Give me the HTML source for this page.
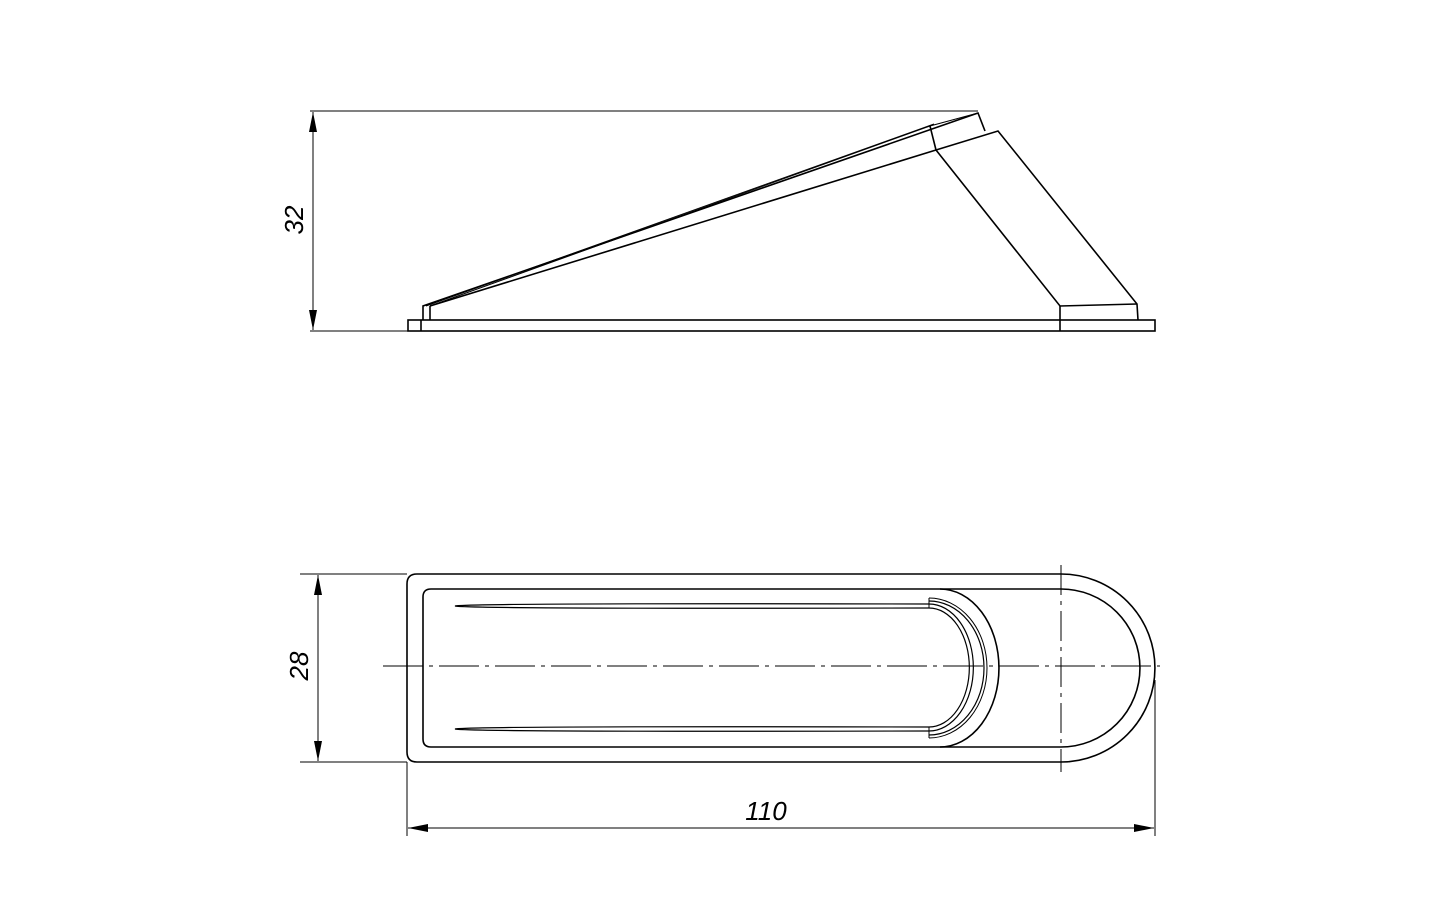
<!DOCTYPE html>
<html><head><meta charset="utf-8"><style>html,body{margin:0;padding:0;background:#fff}svg{display:block}</style></head>
<body>
<svg width="1440" height="900" viewBox="0 0 1440 900" xmlns="http://www.w3.org/2000/svg">
<defs>
<marker id="ar" viewBox="0 0 20 8" refX="20" refY="4" markerWidth="20" markerHeight="8" markerUnits="userSpaceOnUse" orient="auto-start-reverse">
<path d="M0,0 L20,4 L0,8 Z" fill="#000"/></marker>
</defs>
<g fill="none" stroke="#000" stroke-width="1.6">
<!-- side view -->
<line x1="310" y1="111" x2="978" y2="111" stroke-width="1"/>
<line x1="310" y1="331" x2="409" y2="331" stroke-width="1"/>
<line x1="313" y1="112" x2="313" y2="330" stroke-width="1" marker-start="url(#ar)" marker-end="url(#ar)"/>
<rect x="408" y="320" width="747" height="11"/>
<line x1="421" y1="320" x2="421" y2="331"/>
<line x1="1060" y1="306" x2="1060" y2="331"/>
<polyline points="423,320 423,306 978,113 985,131"/>
<line x1="430" y1="306" x2="430" y2="320"/>
<polyline points="430,306 930,126 978,113" stroke-width="1"/>
<line x1="426" y1="306" x2="934" y2="124" stroke-width="1"/>
<line x1="430" y1="306" x2="936" y2="150"/>
<line x1="930" y1="126" x2="936" y2="150"/>
<polyline points="936,150 998,131 1137,304 1138,320"/>
<polyline points="936,150 1060,306 1137,304"/>
<!-- top view -->
<path d="M417,574 L1061,574 A94,94 0 0 1 1061,762 L417,762 Q407,762 407,752 L407,584 Q407,574 417,574 Z"/>
<path d="M431,589 L1061,589 A79,79 0 0 1 1061,747 L431,747 Q423,747 423,739 L423,597 Q423,589 431,589 Z"/>
<path d="M940,589 A59,79 0 0 1 940,747"/>
<path d="M455,606 Q470,603 929,604 A44,63 0 0 1 929,731 Q470,732 455,729 Q470,726 929,727 A40,59 0 0 0 929,608 Q470,609 455,606 Z" stroke-width="1.2"/>
<path d="M929,601 A55,67 0 0 1 929,735" stroke-width="1.2"/>
<path d="M929,598 A58,70 0 0 1 929,738" stroke-width="1"/>
<line x1="929" y1="598" x2="929" y2="608" stroke-width="1"/>
<line x1="929" y1="727" x2="929" y2="738" stroke-width="1"/>
<line x1="383" y1="666" x2="1160" y2="666" stroke-width="1" stroke-dasharray="40,6,4,6"/>
<line x1="1061" y1="565" x2="1061" y2="772" stroke-width="1" stroke-dasharray="30,6,4,6"/>
<!-- dims -->
<line x1="300" y1="574" x2="407" y2="574" stroke-width="1"/>
<line x1="300" y1="762" x2="407" y2="762" stroke-width="1"/>
<line x1="318" y1="575" x2="318" y2="761" stroke-width="1" marker-start="url(#ar)" marker-end="url(#ar)"/>
<line x1="407" y1="762" x2="407" y2="836" stroke-width="1"/>
<line x1="1155" y1="680" x2="1155" y2="836" stroke-width="1"/>
<line x1="408" y1="828" x2="1154" y2="828" stroke-width="1" marker-start="url(#ar)" marker-end="url(#ar)"/>
</g>
<g font-family="Liberation Sans, sans-serif" font-size="26" font-style="italic" fill="#000" text-anchor="middle">
<text transform="translate(303,220) rotate(-90)">32</text>
<text transform="translate(308,666) rotate(-90)">28</text>
<text x="766" y="820">110</text>
</g>
</svg>
</body></html>
